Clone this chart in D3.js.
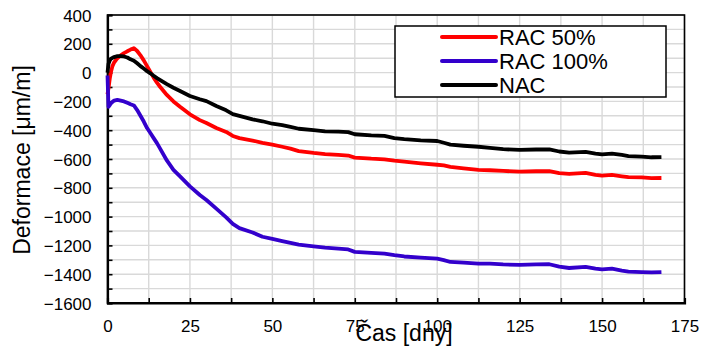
<!DOCTYPE html>
<html><head><meta charset="utf-8">
<script src="https://cdn.jsdelivr.net/npm/d3@7"></script>
<style>body{margin:0;background:#fff}svg{display:block}text{font-family:"Liberation Sans",Arial,sans-serif}</style>
</head><body>
<script>
const days = [0,0.3,0.7,1,1.5,2,3,4,5,6, 7,8,9,10,11,12,13,14,15,16, 18,20,22,25,28,30,33,36,38,40, 44,47,50,53,55.5,58,62.5,66,70,73, 75,80,84,87,90,95,100,102,104,108, 112.5,116,120,125,130,134,137,140,145,148, 150,153,156,158,162,165,168];
const rac50 = [-150,-110,-40,0,45,70,100,120,135,148, 160,170,150,120,85,45,5,-35,-70,-100, -155,-200,-237,-290,-330,-350,-385,-412,-440,-455, -472,-488,-500,-515,-528,-545,-558,-566,-572,-576, -590,-598,-602,-612,-618,-630,-640,-645,-655,-665, -675,-678,-683,-688,-685,-684,-698,-704,-696,-710, -715,-710,-720,-726,-728,-733,-732];
const rac100 = [-20,-237,-225,-215,-203,-195,-190,-195,-200,-210, -220,-228,-260,-300,-340,-385,-420,-455,-490,-530, -610,-675,-720,-790,-850,-885,-945,-1005,-1050,-1080, -1110,-1140,-1155,-1170,-1183,-1195,-1207,-1215,-1222,-1228, -1245,-1252,-1257,-1268,-1277,-1285,-1292,-1302,-1315,-1320, -1327,-1326,-1332,-1335,-1332,-1331,-1348,-1357,-1349,-1362, -1367,-1362,-1375,-1382,-1385,-1388,-1386];
const nac = [0,60,85,95,102,108,114,115,112,105, 92,83,65,45,28,10,-5,-22,-38,-52, -80,-105,-128,-162,-185,-198,-232,-262,-288,-300, -325,-338,-355,-365,-377,-390,-400,-408,-410,-413, -428,-436,-440,-455,-462,-470,-475,-487,-500,-508, -515,-522,-532,-537,-534,-533,-548,-556,-550,-562, -568,-562,-572,-580,-583,-588,-587];
const seriesNames = ["RAC 50%","RAC 100%","NAC"];
const seriesColors = ["#ff0000","#3300cc","#000000"];
const xTicks = [0,25,50,75,100,125,150,175];
const yTicks = [400,200,0,-200,-400,-600,-800,-1000,-1200,-1400,-1600];
const xTitle = "Čas [dny]";
const yTitle = "Deformace [μm/m]";

const W=704,H=351, L=107.5, R=684.5, T=15, B=303;
const svg=d3.select("body").append("svg").attr("width",W).attr("height",H);
const x=d3.scaleLinear().domain([0,175]).range([L,R]);
const y=d3.scaleLinear().domain([-1600,400]).range([B,T]);

// gridlines
const gx=d3.range(0,175.01,12.5), gy=d3.range(-1600,400.01,100);
svg.append("g").selectAll("line").data(gx).join("line")
  .attr("x1",d=>x(d)).attr("x2",d=>x(d)).attr("y1",T).attr("y2",B)
  .attr("stroke","#d9d9d9").attr("stroke-width",1.4);
svg.append("g").selectAll("line").data(gy).join("line")
  .attr("x1",L).attr("x2",R).attr("y1",d=>y(d)).attr("y2",d=>y(d))
  .attr("stroke","#d9d9d9").attr("stroke-width",1.4);

// frame
svg.append("rect").attr("x",L).attr("y",T).attr("width",R-L).attr("height",B-T)
  .attr("fill","none").attr("stroke","#000").attr("stroke-width",1.6);

// axes
const xa=svg.append("g").attr("transform",`translate(0,${B})`)
  .call(d3.axisBottom(x).tickValues(gx).tickSize(-5).tickPadding(0).tickFormat(d=>xTicks.includes(d)?d3.format("d")(d):""));
xa.select(".domain").attr("stroke-width",2.2);
xa.selectAll(".tick line").attr("stroke-width",1.6);
xa.selectAll("text").attr("font-size",17).attr("fill","#000").attr("dy",0).attr("y",29);
const ya=svg.append("g").attr("transform",`translate(${L},0)`)
  .call(d3.axisLeft(y).tickValues(gy).tickSize(-5).tickPadding(0).tickFormat(d=>yTicks.includes(d)?d3.format("d")(d):""));
ya.select(".domain").attr("stroke-width",2.2);
ya.selectAll(".tick line").attr("stroke-width",1.6);
ya.selectAll("text").attr("font-size",17).attr("fill","#000").attr("x",-16).attr("dy","0.36em");
svg.selectAll(".domain").attr("stroke","#000");
// bottom axis line thicker
svg.append("line").attr("x1",L).attr("x2",R+1).attr("y1",B).attr("y2",B).attr("stroke","#000").attr("stroke-width",2.2);

// lines
const line=d3.line().x(d=>x(d[0])).y(d=>y(d[1]));
[rac50,rac100,nac].forEach((vals,i)=>{
  svg.append("path").datum(days.map((d,j)=>[d,vals[j]]))
    .attr("d",line).attr("fill","none").attr("stroke",seriesColors[i])
    .attr("stroke-width",3.8).attr("stroke-linejoin","round");
});

// legend
const lg=svg.append("g");
lg.append("rect").attr("x",395).attr("y",26).attr("width",271).attr("height",71)
  .attr("fill","#fff").attr("stroke","#000").attr("stroke-width",1.5);
seriesNames.forEach((n,i)=>{
  const yy=37+i*24;
  lg.append("line").attr("x1",442).attr("x2",496).attr("y1",yy).attr("y2",yy)
    .attr("stroke",seriesColors[i]).attr("stroke-width",4).attr("stroke-linecap","round");
  lg.append("text").attr("x",499).attr("y",yy).attr("dy","0.36em").attr("font-size",22).text(n);
});

// titles
svg.append("text").attr("x",404).attr("y",341).attr("text-anchor","middle").attr("font-size",23).text(xTitle);
svg.append("text").attr("transform","translate(30,160) rotate(-90)").attr("text-anchor","middle").attr("font-size",23).text(yTitle);
</script>
</body></html>
